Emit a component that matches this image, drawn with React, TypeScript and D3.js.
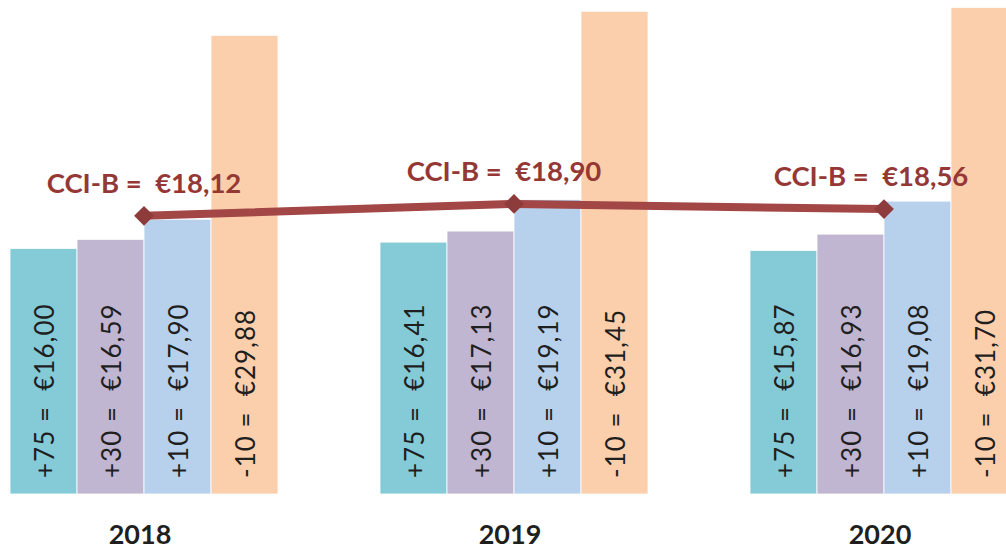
import React from "react";
import * as d3 from "d3";

const years = ["2018", "2019", "2020"];
const seriesNames = ["+75", "+30", "+10", "-10"];
const values75 = [16.0, 16.41, 15.87];
const values30 = [16.59, 17.13, 16.93];
const values10 = [17.9, 19.19, 19.08];
const valuesM10 = [29.88, 31.45, 31.7];
const cciB = [18.12, 18.9, 18.56];
const labelOffsets = [0, -10, -13];

const colors = ["#84CBD7", "#C0B6D2", "#B7D1EC", "#FBCFAC"];
const W = 1006;
const H = 550;

const fmt = (v: number) => v.toFixed(2).replace(".", ",");

export default function App() {
  const series = [values75, values30, values10, valuesM10];
  const x0 = d3.scaleBand<string>().domain(years).range([10, 10 + 370 * 3]).paddingInner(0).paddingOuter(0);
  const groupStart = (i: number) => x0(years[i])!;
  const x1 = d3.scaleBand<string>().domain(seriesNames).range([0, 268]).padding(0);
  const y = d3.scaleLinear().domain([0, 32]).range([494, 494 - 32 * 15.35]);
  const bw = x1.bandwidth();

  const linePts: [number, number][] = cciB.map((v, i) => [groupStart(i) + 134, y(v)]);
  const line = d3.line()(linePts) || "";
  const font = "Lato, 'Open Sans', sans-serif";

  return (
    <svg width={W} height={H} style={{ position: "absolute", left: 0, top: 0, background: "#fff" }}>
      {years.map((yr, gi) => (
        <g key={yr} transform={`translate(${groupStart(gi)},0)`}>
          {series.map((vals, si) => {
            const bx = x1(seriesNames[si])!;
            const v = vals[gi];
            return (
              <g key={si}>
                <rect
                  x={bx}
                  y={y(v)}
                  width={bw}
                  height={y(0) - y(v)}
                  fill={colors[si]}
                  stroke="#ffffff"
                  strokeWidth={0.8}
                />
                <text
                  transform={`translate(${bx + bw / 2 + 10},${478}) rotate(-90)`}
                  fontFamily={font}
                  fontSize={26}
                  letterSpacing={1}
                  fill="#1f1f1f"
                  style={{ whiteSpace: "pre" }}
                >
                  {`${seriesNames[si]} =  €${fmt(v)}`}
                </text>
              </g>
            );
          })}
          <text
            x={134 - 4}
            y={544}
            textAnchor="middle"
            fontFamily={font}
            fontWeight="bold"
            fontSize={27}
            fill="#1f1f1f"
          >
            {yr}
          </text>
        </g>
      ))}
      <path d={line} fill="none" stroke="#A24646" strokeWidth={8} />
      {linePts.map(([px, py], i) => (
        <g key={i}>
          <rect
            x={px - 7}
            y={py - 7}
            width={14}
            height={14}
            fill="#8E3B3B"
            transform={`rotate(45,${px},${py})`}
          />
          <text
            x={px + labelOffsets[i]}
            y={py - 23}
            textAnchor="middle"
            fontFamily={font}
            fontWeight="bold"
            fontSize={27.5}
            fill="#953735"
            style={{ whiteSpace: "pre" }}
          >
            {`CCI-B =  €${fmt(cciB[i])}`}
          </text>
        </g>
      ))}
    </svg>
  );
}
